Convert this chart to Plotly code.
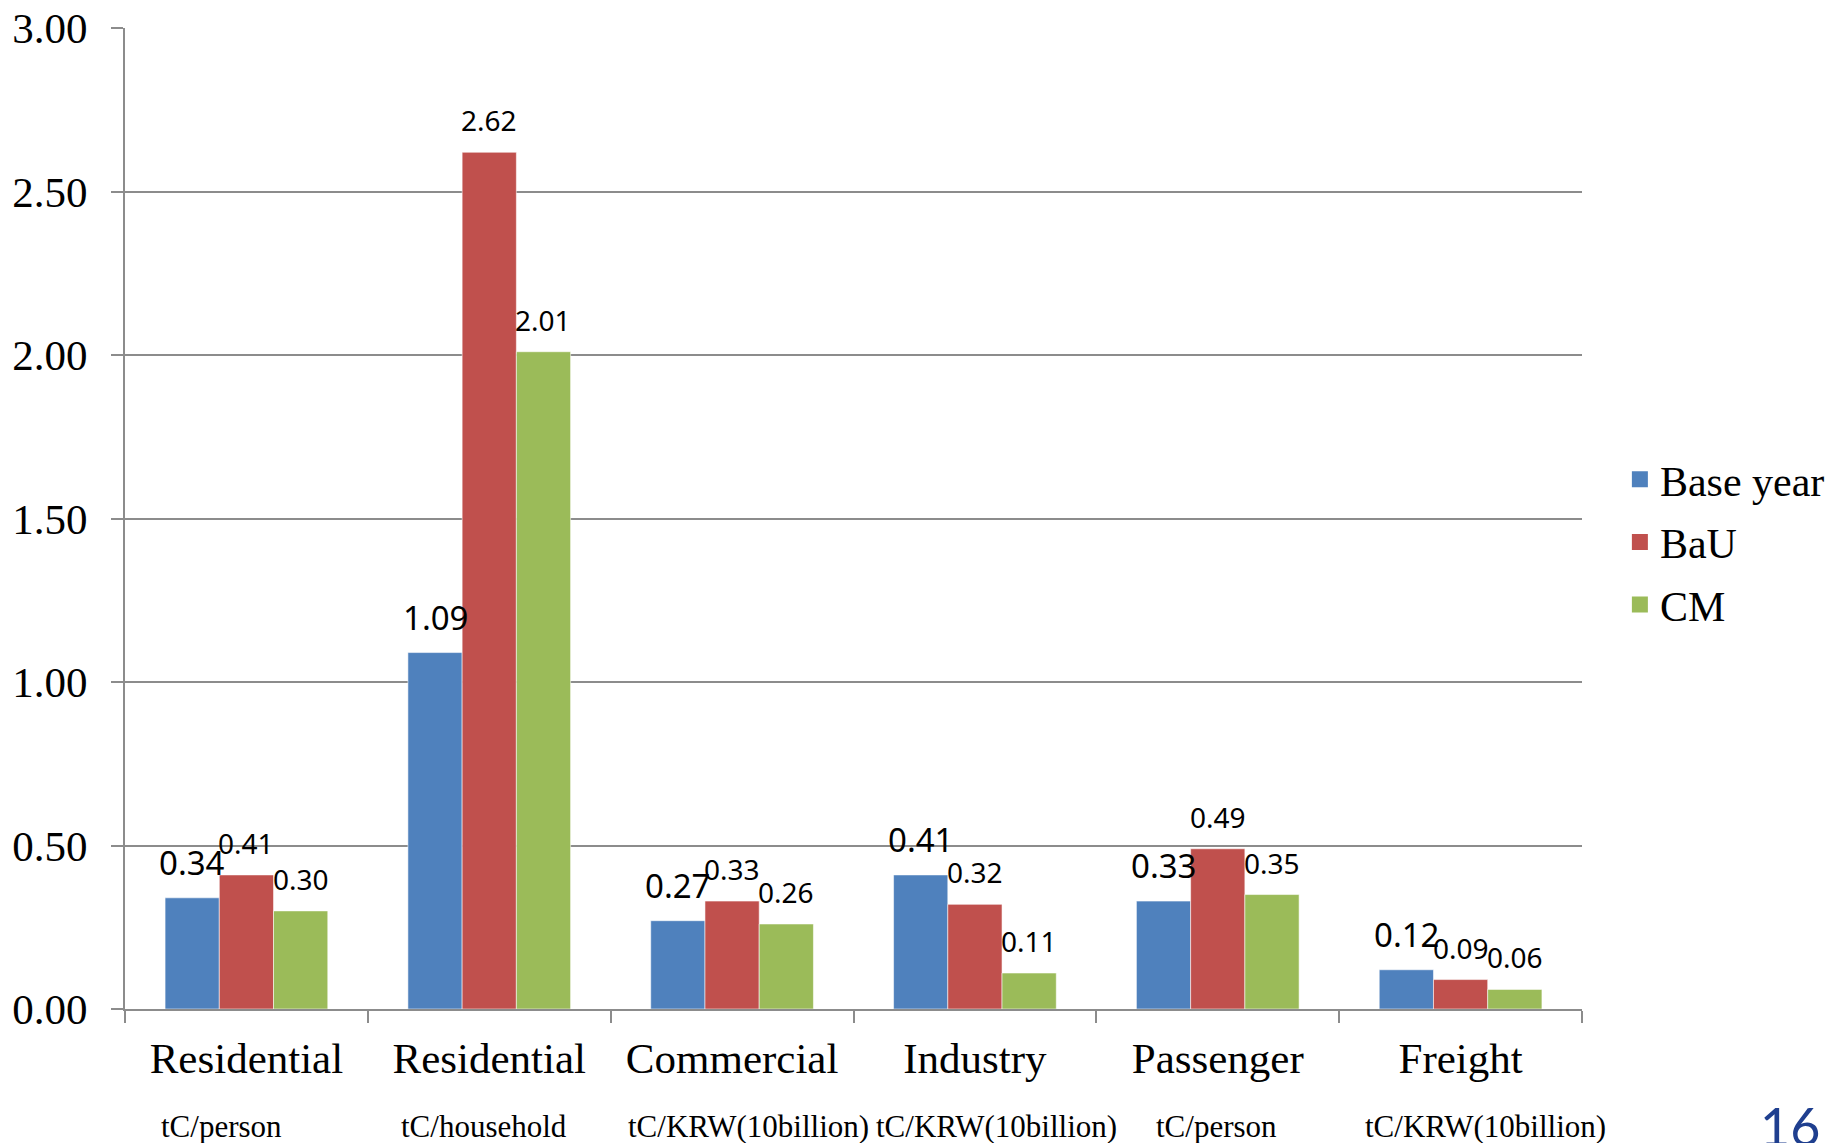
import plotly.graph_objects as go

# Carbon intensity by sector and scenario
sectors = ["Residential", "Residential", "Commercial", "Industry", "Passenger", "Freight"]
units = ["tC/person", "tC/household", "tC/KRW(10billion)", "tC/KRW(10billion)",
         "tC/person", "tC/KRW(10billion)"]
base_year = [0.34, 1.09, 0.27, 0.41, 0.33, 0.12]
bau = [0.41, 2.62, 0.33, 0.32, 0.49, 0.09]
cm = [0.30, 2.01, 0.26, 0.11, 0.35, 0.06]
y_ticks = [0.0, 0.5, 1.0, 1.5, 2.0, 2.5, 3.0]
page_label = "16"

keys = [f"{s} {u}" for s, u in zip(sectors, units)]

series = [
    ("Base year", base_year, "#4F81BD", 33),
    ("BaU", bau, "#C0504D", 28),
    ("CM", cm, "#9BBB59", 28),
]

# figure geometry
W, H = 1835, 1143
M = dict(l=125, r=253, t=28, b=134)
BARGAP = 0.33
plot_w = W - M["l"] - M["r"]
bar_px = plot_w / len(keys) * (1 - BARGAP) / len(series)

grey = "#8C8C8C"
serif = "Liberation Serif"

fig = go.Figure()
for i, (name, vals, color, lbl_size) in enumerate(series):
    fig.add_trace(go.Bar(
        x=keys, y=vals, name=name,
        marker=dict(color=color, line=dict(color="rgba(255,255,255,0.55)", width=1)),
        showlegend=False,
    ))
    # legend entry with a larger square swatch
    fig.add_trace(go.Scatter(
        x=[None], y=[None], mode="markers", name=name, legendgroup=name,
        marker=dict(symbol="square", size=20, color=color),
        showlegend=True,
    ))
    # value labels above each bar
    for k, v in zip(keys, vals):
        fig.add_annotation(
            x=k, xref="x", y=v, yref="y", text=f"{v:.2f}",
            showarrow=False, xanchor="center", yanchor="bottom",
            xshift=(i - (len(series) - 1) / 2) * bar_px, yshift=11,
            font=dict(family="Noto Sans", size=lbl_size, color="black"),
        )

# unit captions under each sector name
unit_xshift = [-25, -5, 16, 22, -1, 25]
for k, u, dx in zip(keys, units, unit_xshift):
    fig.add_annotation(x=k, xref="x", y=-0.120, yref="paper", text=u,
                       showarrow=False, yanchor="middle", xshift=dx,
                       font=dict(family=serif, size=31, color="black"))

fig.add_annotation(x=1.143, xref="paper", y=-0.086, yref="paper", text=page_label,
                   showarrow=False, yanchor="top", xanchor="center",
                   font=dict(family="Lato", size=52, color="#1F3F8F"))

fig.update_layout(
    width=W, height=H,
    margin=dict(**M, autoexpand=False),
    paper_bgcolor="white", plot_bgcolor="white",
    barmode="group", bargap=BARGAP, bargroupgap=0,
    font=dict(family=serif, color="black"),
    legend=dict(x=1.026, xanchor="left", y=0.476, yanchor="middle",
                font=dict(family=serif, size=42, color="black"),
                itemsizing="trace", tracegroupgap=5),
    xaxis=dict(
        type="category", tickmode="array", tickvals=keys, ticktext=sectors,
        range=[-0.5, len(keys) - 0.5],
        tickson="boundaries", ticks="outside", ticklen=12, tickwidth=2, tickcolor=grey,
        showline=True, linecolor=grey, linewidth=2, showgrid=False,
        tickfont=dict(family=serif, size=43, color="black"),
        ticklabelstandoff=10, automargin=False,
    ),
    yaxis=dict(
        range=[0, 3], tickmode="array", tickvals=y_ticks,
        ticktext=[f"{v:.2f}" for v in y_ticks],
        ticks="outside", ticklen=12, tickwidth=2, tickcolor=grey,
        showline=True, linecolor=grey, linewidth=2,
        showgrid=True, gridcolor=grey, gridwidth=2, zeroline=False,
        tickfont=dict(family=serif, size=43, color="black"),
        ticklabelstandoff=15, automargin=False,
    ),
)

fig.write_html("out.html")
